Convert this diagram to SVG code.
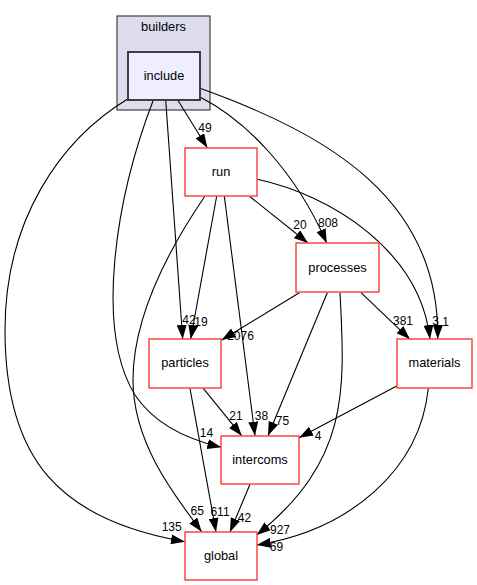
<svg xmlns="http://www.w3.org/2000/svg" width="477" height="585" viewBox="0 0 477 585">
<style>
.node{fill:#ffffff;stroke:#ff4444;stroke-width:1.5}
.nlabel{font-family:"Liberation Sans",Arial,sans-serif;font-size:12.8px;text-anchor:middle;fill:#000}
.elabel{font-family:"Liberation Sans",Arial,sans-serif;font-size:12px;text-anchor:middle;fill:#000}
.edge{fill:none;stroke:#000;stroke-width:1.1;marker-end:url(#arrow)}
</style>
<defs>
<marker id="arrow" markerUnits="userSpaceOnUse" viewBox="0 0 14 10" markerWidth="14" markerHeight="10" refX="14" refY="5" orient="auto">
<path d="M0,0 L14,5 L0,10 z" fill="#000"/>
</marker>
</defs>
<rect width="477" height="585" fill="#ffffff"/>
<g id="cluster-builders">
<rect x="117" y="16" width="93" height="94" fill="#ddddee" stroke="#404040" stroke-width="1.2"/>
<text class="nlabel" x="163.5" y="31">builders</text>
</g>
<g id="connectors">
<text class="elabel" x="205" y="132">49</text>
<text class="elabel" x="328" y="227">808</text>
<text class="elabel" x="300" y="229">20</text>
<text class="elabel" x="189" y="324">42</text>
<text class="elabel" x="201" y="326">19</text>
<text class="elabel" x="240.5" y="340">2076</text>
<text class="elabel" x="403" y="325">381</text>
<text class="elabel" x="435.5" y="325">3</text>
<text class="elabel" x="445.5" y="326">1</text>
<text class="elabel" x="206.5" y="437">14</text>
<text class="elabel" x="236" y="420">21</text>
<text class="elabel" x="261.5" y="420">38</text>
<text class="elabel" x="282.5" y="425">75</text>
<text class="elabel" x="318" y="440">4</text>
<text class="elabel" x="171.7" y="531">135</text>
<text class="elabel" x="197.3" y="515">65</text>
<text class="elabel" x="220" y="516">611</text>
<text class="elabel" x="244.5" y="522">42</text>
<text class="elabel" x="280" y="534">927</text>
<text class="elabel" x="276.5" y="551">69</text>
<path class="edge" d="M177.7,100 L207.3,147.7"/>
<path class="edge" d="M200,97 C245,120 295,170 326.7,243"/>
<path class="edge" d="M200,88.3 C330,135 440,200 437.7,339"/>
<path class="edge" d="M165.7,100 L182.7,339"/>
<path class="edge" d="M153.3,100 C115,200 95,330 135,395 C155,425 190,440 221.3,447.3"/>
<path class="edge" d="M127.7,99 C60,140 5,220 5,330 C5,460 60,520 185,541.7"/>
<path class="edge" d="M250,196.7 L308,243"/>
<path class="edge" d="M257.3,179.3 C330,195 420,250 430,339"/>
<path class="edge" d="M216.7,196 L190.7,339"/>
<path class="edge" d="M224.3,196 L255,435.7"/>
<path class="edge" d="M205,196 C175,240 133,310 133,380 C133,440 170,490 201.7,531.7"/>
<path class="edge" d="M299.3,292.7 L221.7,340"/>
<path class="edge" d="M327.3,292.7 L268,435.7"/>
<path class="edge" d="M340,292.7 C345,390 350,460 256.7,535"/>
<path class="edge" d="M361,292.7 L410,339.3"/>
<path class="edge" d="M203.3,388.3 L241.7,435.7"/>
<path class="edge" d="M190,388.3 L216,532"/>
<path class="edge" d="M396.7,386 L299,437.7"/>
<path class="edge" d="M428.3,388.3 C420,470 350,530 256.7,545"/>
<path class="edge" d="M250,484.3 L230,532"/>
</g>
<g id="node-include">
<rect x="128" y="52" width="72" height="48" fill="#eeeeff" stroke="#404040" stroke-width="2"/>
<text class="nlabel" x="164" y="80">include</text>
</g>
<g id="node-run">
<rect class="node" x="185" y="148" width="72" height="48"/>
<text class="nlabel" x="221" y="176">run</text>
</g>
<g id="node-processes">
<rect class="node" x="296" y="243" width="83" height="49"/>
<text class="nlabel" x="337.5" y="271.5">processes</text>
</g>
<g id="node-particles">
<rect class="node" x="149" y="339" width="72" height="49"/>
<text class="nlabel" x="185" y="367">particles</text>
</g>
<g id="node-materials">
<rect class="node" x="397" y="339" width="75" height="49"/>
<text class="nlabel" x="434.5" y="367">materials</text>
</g>
<g id="node-intercoms">
<rect class="node" x="221" y="436" width="78" height="48"/>
<text class="nlabel" x="260" y="464">intercoms</text>
</g>
<g id="node-global">
<rect class="node" x="185" y="532" width="72" height="48"/>
<text class="nlabel" x="221" y="560">global</text>
</g>
</svg>
